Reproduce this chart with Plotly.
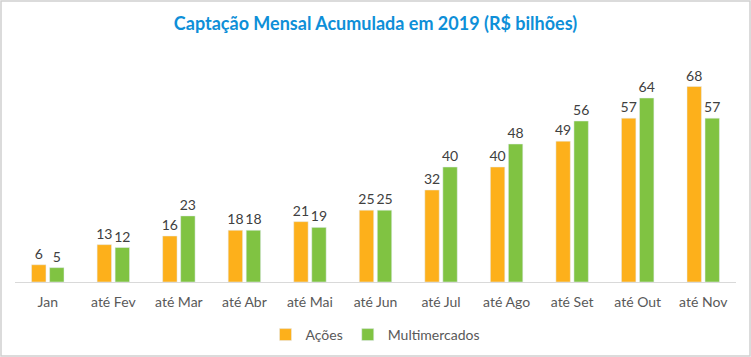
import plotly.graph_objects as go

categories = ["Jan", "até Fev", "até Mar", "até Abr", "até Mai", "até Jun",
              "até Jul", "até Ago", "até Set", "até Out", "até Nov"]
acoes = [6, 13, 16, 18, 21, 25, 32, 40, 49, 57, 68]
multimercados = [5, 12, 23, 18, 19, 25, 40, 48, 56, 64, 57]

W, H = 751, 357
ML, MR, MT, MB = 15, 15, 52, 75
PW, PH = W - ML - MR, H - MT - MB

FONT = "Lato, 'Open Sans', sans-serif"

fig = go.Figure()
fig.add_trace(go.Bar(name="Ações", x=categories, y=acoes, marker_color="#FDB01B",
                     text=acoes, textposition="outside", cliponaxis=False,
                     constraintext="none",
                     textfont=dict(size=14, color="#404040")))
fig.add_trace(go.Bar(name="Multimercados", x=categories, y=multimercados, marker_color="#80C342",
                     text=multimercados, textposition="outside", cliponaxis=False,
                     constraintext="none",
                     textfont=dict(size=14, color="#404040")))

fig.update_layout(
    width=W, height=H,
    margin=dict(l=ML, r=MR, t=MT, b=MB, autoexpand=False),
    paper_bgcolor="white", plot_bgcolor="white",
    font=dict(family=FONT, color="#595959"),
    title=dict(text="<b>Captação Mensal Acumulada em 2019 (R$ bilhões)</b>",
               x=0.5, xanchor="center", y=1 - 24 / H, yanchor="middle",
               font=dict(size=18, color="#0E8FD8", family=FONT)),
    barmode="group", bargap=0.45, bargroupgap=0.2,
    xaxis=dict(showline=True, linecolor="#D9D9D9", linewidth=1, ticks="",
               ticklabelstandoff=7,
               tickfont=dict(size=14, color="#595959"), showgrid=False),
    yaxis=dict(range=[0, 80], visible=False, showgrid=False, zeroline=False),
    legend=dict(orientation="h", x=0.5, xanchor="center", y=(282 - 335) / PH, yanchor="middle",
                font=dict(size=14, color="#595959"), itemwidth=30),
    showlegend=True,
)

fig.add_shape(type="rect", xref="paper", yref="paper",
              x0=(1 - ML) / PW, x1=(W - 1 - ML) / PW,
              y0=(282 - (H - 1)) / PH, y1=(282 - 1) / PH,
              line=dict(color="#D0D0D0", width=1.5), fillcolor="rgba(0,0,0,0)", layer="above")

fig.write_html("out.html", config={"displayModeBar": False},
               post_script="document.body.style.margin='0';document.body.style.overflow='hidden';")
